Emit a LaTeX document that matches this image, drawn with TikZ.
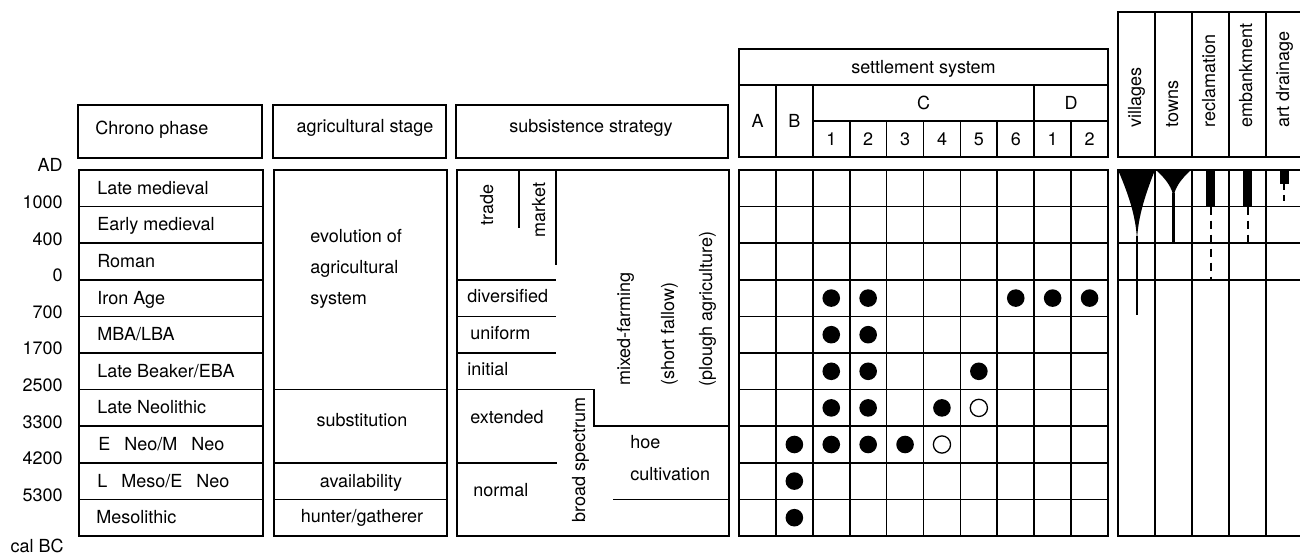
\documentclass[tikz,border=0pt]{standalone}
\usepackage{fontspec}
\setmainfont{TeX Gyre Heros}
\newcommand\figfont{\fontsize{9}{11}\selectfont}
\begin{document}
\begin{tikzpicture}[x=0.5pt,y=-0.5pt,
  ln/.style={line width=0.85pt},
  txt/.style={inner sep=0pt,font=\figfont},
  vtxt/.style={txt,rotate=90},
  fdot/.style={fill=black},
  odot/.style={draw=black,fill=white,line width=0.65pt},
  blk/.style={fill=black},
  dashline/.style={line width=1pt,dash pattern=on 4pt off 3pt}]
\useasboundingbox (0,0) rectangle (1300,555);
\clip (0,0) rectangle (1300,555);

% ---------- year labels ----------
\node[txt,anchor=base east] (yr0) at (63,172) {AD};
\node[txt,anchor=base east] (yr1) at (63,208.6) {1000};
\node[txt,anchor=base east] (yr2) at (63,245.2) {400};
\node[txt,anchor=base east] (yr3) at (63,281.8) {0};
\node[txt,anchor=base east] (yr4) at (63,318.4) {700};
\node[txt,anchor=base east] (yr5) at (63,355) {1700};
\node[txt,anchor=base east] (yr6) at (63,391.6) {2500};
\node[txt,anchor=base east] (yr7) at (63,428.2) {3300};
\node[txt,anchor=base east] (yr8) at (63,464.8) {4200};
\node[txt,anchor=base east] (yr9) at (63,501.4) {5300};
\node[txt,anchor=base east] (yr10) at (64,552) {cal BC};

% ---------- Chrono phase ----------
\draw[ln] (78,105) rectangle (262,158);
\node[txt,anchor=base west] (hchrono) at (95,135) {Chrono phase};
\draw[ln] (79,170) rectangle (263,536);
\foreach \i in {1,...,9} \draw[ln] (79,{170+36.6*\i}) -- (263,{170+36.6*\i});
\node[txt,anchor=base west] (ph0) at (97,194.3) {Late medieval};
\node[txt,anchor=base west] (ph1) at (97,230.9) {Early medieval};
\node[txt,anchor=base west] (ph2) at (97,267.5) {Roman};
\node[txt,anchor=base west] (ph3) at (97,304.1) {Iron Age};
\node[txt,anchor=base west] (ph4) at (97,340.7) {MBA/LBA};
\node[txt,anchor=base west] (ph5) at (97,377.3) {Late Beaker/EBA};
\node[txt,anchor=base west] (ph6) at (97,413.9) {Late Neolithic};
\node[txt,anchor=base west] (ph7) at (98,450.5) {E\enspace{} Neo/M\enspace{} Neo};
\node[txt,anchor=base west] (ph8) at (97,487.1) {L\enspace{} Meso/E\enspace{} Neo};
\node[txt,anchor=base west] (ph9) at (96,523.7) {Mesolithic};

% ---------- agricultural stage ----------
\draw[ln] (273,105) rectangle (446,158);
\node[txt,anchor=base] (hagri) at (365,133) {agricultural stage};
\draw[ln] (274,170) rectangle (447,536);
\draw[ln] (274,389.6) -- (447,389.6);
\draw[ln] (274,462.8) -- (447,462.8);
\draw[ln] (274,499.4) -- (447,499.4);
\node[txt,anchor=base west] (ag1) at (310,243) {evolution of};
\node[txt,anchor=base west] (ag2) at (310,274) {agricultural};
\node[txt,anchor=base west] (ag3) at (310,305) {system};
\node[txt,anchor=base] (ag4) at (362,426) {substitution};
\node[txt,anchor=base] (ag5) at (361,487.6) {availability};
\node[txt,anchor=base] (ag6) at (362,522) {hunter/gatherer};

% ---------- subsistence strategy ----------
\draw[ln] (456,105) rectangle (728,158);
\node[txt,anchor=base] (hsub) at (591,133) {subsistence strategy};
\draw[ln] (457,170) rectangle (729,536);
\draw[ln] (519,170) -- (519,228);
\draw[ln] (556,170) -- (556,265);
\draw[ln] (457,279.8) -- (556,279.8);
\draw[ln] (457,316.4) -- (556,316.4);
\draw[ln] (457,353) -- (556,353);
\draw[ln] (457,389.6) -- (594,389.6) -- (594,426.2) -- (729,426.2);
\draw[ln] (457,462.8) -- (557,462.8);
\draw[ln] (613,499.4) -- (729,499.4);
\node[vtxt,anchor=base] (s1) at (493,205) {trade};
\node[vtxt,anchor=base] (s2) at (545,210) {market};
\node[txt,anchor=base west] (s3) at (467,303) {diversified};
\node[txt,anchor=base west] (s4) at (470,339.5) {uniform};
\node[txt,anchor=base west] (s5) at (467,376) {initial};
\node[txt,anchor=base west] (s6) at (470,423) {extended};
\node[txt,anchor=base west] (s7) at (473,496) {normal};
\node[vtxt,anchor=base] (s8) at (585,460) {broad spectrum};
\node[vtxt,anchor=base west] (s9) at (630,386) {mixed-farming};
\node[vtxt,anchor=base west] (s10) at (674,386) {(short fallow)};
\node[vtxt,anchor=base west] (s11) at (712,387) {(plough agriculture)};
\node[txt,anchor=base west] (s12) at (630,448) {hoe};
\node[txt,anchor=base west] (s13) at (630,480) {cultivation};

% ---------- settlement system header ----------
\draw[ln] (739,49) rectangle (1108,157);
\draw[ln] (739,85) -- (1108,85);
\draw[ln] (812.8,121) -- (1108,121);
\foreach \x in {775.9,812.8,1034.2} \draw[ln] (\x,85) -- (\x,157);
\foreach \x in {849.7,886.6,923.5,960.4,997.3,1071.1} \draw[ln] (\x,121) -- (\x,157);
\node[txt,anchor=base] (hset) at (923.5,73.5) {settlement system};
\node[txt,anchor=base] (hA) at (757.5,127.5) {A};
\node[txt,anchor=base] (hB) at (794.4,127.5) {B};
\node[txt,anchor=base] (hC) at (923.5,109.5) {C};
\node[txt,anchor=base] (hD) at (1071.1,109.5) {D};
\node[txt,anchor=base] (hC1) at (831.3,145.5) {1};
\node[txt,anchor=base] (hC2) at (868.2,145.5) {2};
\node[txt,anchor=base] (hC3) at (905.1,145.5) {3};
\node[txt,anchor=base] (hC4) at (942,145.5) {4};
\node[txt,anchor=base] (hC5) at (978.9,145.5) {5};
\node[txt,anchor=base] (hC6) at (1015.8,145.5) {6};
\node[txt,anchor=base] (hD1) at (1052.7,145.5) {1};
\node[txt,anchor=base] (hD2) at (1089.6,145.5) {2};

% ---------- settlement grid ----------
\draw[ln] (739,170) rectangle (1108,536);
\foreach \i in {1,...,9} {
  \draw[ln] (739,{170+36.6*\i}) -- (1108,{170+36.6*\i});
  \draw[ln] ({739+36.9*\i},170) -- ({739+36.9*\i},536);
}
% filled dots: col/row
\foreach \c/\r in {3/4,4/4,8/4,9/4,10/4,3/5,4/5,3/6,4/6,7/6,3/7,4/7,6/7,2/8,3/8,4/8,5/8,2/9,2/10}
  \fill[fdot] ({739+36.9*(\c-0.5)},{170+36.6*(\r-0.5)}) circle[radius=4.4pt];
% open dots
\foreach \c/\r in {7/7,6/8}
  \filldraw[odot] ({739+36.9*(\c-0.5)},{170+36.6*(\r-0.5)}) circle[radius=4.3pt];

% ---------- right panel ----------
\draw[ln] (1118,12) rectangle (1303,157);
\foreach \x in {1155,1192,1229,1266} \draw[ln] (\x,12) -- (\x,157);
\node[vtxt,anchor=base west] (rv) at (1141,128) {villages};
\node[vtxt,anchor=base west] (rt) at (1178,128) {towns};
\node[vtxt,anchor=base west] (rr) at (1215,128) {reclamation};
\node[vtxt,anchor=base west] (re) at (1252,128) {embankment};
\node[vtxt,anchor=base west] (ra) at (1289,128) {art drainage};
\draw[ln] (1118,170) rectangle (1303,536);
\foreach \x in {1155,1192,1229,1266} \draw[ln] (\x,170) -- (\x,536);
\foreach \y in {206.6,243.2,279.8} \draw[ln] (1118,\y) -- (1303,\y);
% villages
\fill[blk] (1118,170) .. controls (1131,200) and (1136,220) .. (1137,240)
  .. controls (1138,220) and (1143,200) .. (1155,170) -- cycle;
\draw[line width=1.3pt] (1137,236) -- (1137,315);
% towns
\fill[blk] (1156,170) .. controls (1167,180) and (1172,188) .. (1173.5,197)
  .. controls (1175,188) and (1180,180) .. (1191,170) -- cycle;
\draw[line width=1.1pt] (1173.5,193) -- (1173.5,242);
% reclamation
\fill[blk] (1206,170) rectangle (1214.5,206.6);
\draw[dashline] (1210.5,206.6) -- (1210.5,279.8);
% embankment
\fill[blk] (1243,170) rectangle (1252,206.6);
\draw[dashline] (1247.5,206.6) -- (1247.5,243.2);
% art drainage
\fill[blk] (1280,170) rectangle (1288.5,184);
\draw[line width=1pt,dash pattern=on 3pt off 2.5pt] (1284,184) -- (1284,206.6);
\end{tikzpicture}
\end{document}
